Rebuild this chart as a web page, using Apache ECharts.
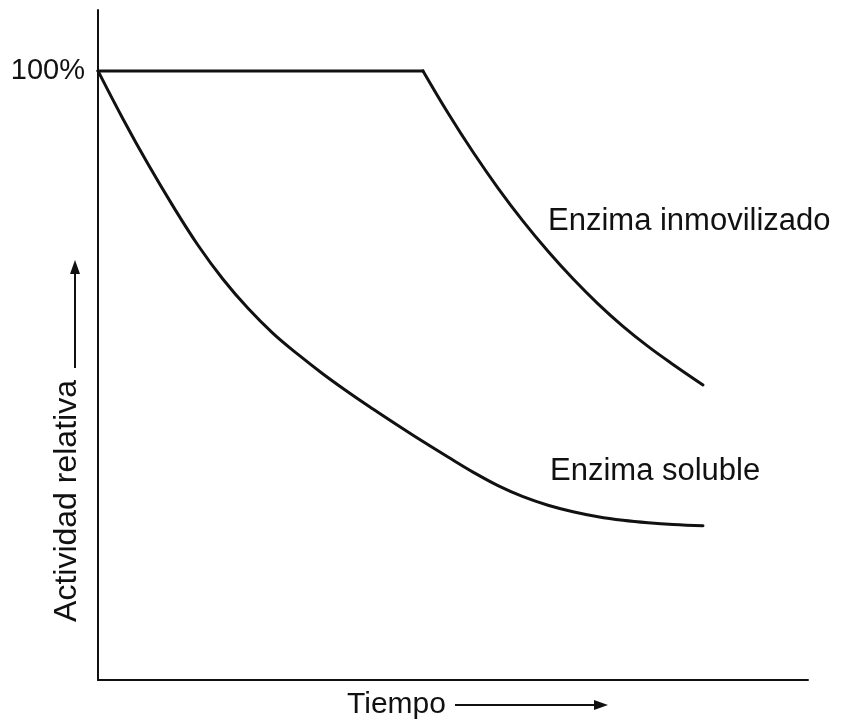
<!DOCTYPE html>
<html>
<head>
<meta charset="utf-8">
<script src="https://cdn.jsdelivr.net/npm/echarts@6/dist/echarts.min.js"></script>
<style>
  html, body { margin: 0; padding: 0; background: #fff; }
  #chart { width: 842px; height: 723px; }
</style>
</head>
<body>
<div id="chart"></div>
<script>
// Relative activity (%) against time (arbitrary units) for the two forms of the enzyme
const solubleTime = [0, 1, 2, 3, 4, 5, 6, 7, 8, 9, 10, 11, 12, 13, 14, 15, 16, 17, 18, 19, 20, 21, 22, 23, 24.2];
const solubleActivity = [100, 92.11, 84.70, 77.80, 71.38, 65.79, 61.02, 56.91, 53.45, 50.25, 47.29, 44.49, 41.78,
                         39.14, 36.60, 34.13, 31.91, 30.10, 28.70, 27.63, 26.81, 26.23, 25.82, 25.53, 25.33];

const immobTime = [0, 13, 14, 15, 16, 17, 18, 19, 20, 21, 22, 23, 24.2];
const immobActivity = [100, 100, 93.09, 86.68, 80.76, 75.33, 70.39, 65.87, 61.76, 58.06, 54.77, 51.81, 48.44];
// last point of the immobilised enzyme's plateau (the curve bends sharply there)
const immobPlateauEnd = 1;

const yTickLabels = { 100: '100%' };
const seriesNames = ['Enzima soluble', 'Enzima inmovilizado'];
// index of the point each curve label sits beside
const solubleLabelAt = 16;
const immobLabelAt = 5;
const xTitle = 'Tiempo';
const yTitle = 'Actividad relativa';

const FONT = '"Liberation Sans", Arial, Helvetica, sans-serif';
const INK = '#111';

const zip = (xs, ys) => xs.map((x, i) => [x, ys[i]]);

function curveLabel(xs, ys, idx, text, offset) {
  return {
    silent: true,
    symbol: 'circle', symbolSize: 0,
    label: {
      show: true, position: 'right', distance: 0, offset: offset,
      formatter: text, fontFamily: FONT, fontSize: 31, color: INK
    },
    data: [{ coord: [xs[idx], ys[idx]] }]
  };
}

const immobPoints = zip(immobTime, immobActivity);
const lineStyle = { color: INK, width: 3, cap: 'round', join: 'round' };

const chart = echarts.init(document.getElementById('chart'), null, { renderer: 'canvas' });

chart.setOption({
  animation: false,
  backgroundColor: '#fff',
  grid: { left: 98, right: 34, top: 10, bottom: 43, containLabel: false },
  xAxis: {
    type: 'value', min: 0, max: 28.4,
    axisLine: { lineStyle: { color: INK, width: 2 } },
    axisTick: { show: false }, axisLabel: { show: false }, splitLine: { show: false }
  },
  yAxis: {
    type: 'value', min: 0, max: 110, interval: 100,
    axisLine: { show: true, lineStyle: { color: INK, width: 2 } },
    axisTick: { show: false }, splitLine: { show: false },
    axisLabel: {
      formatter: v => yTickLabels[v] || '',
      fontFamily: FONT, fontSize: 29, color: INK, margin: 13
    }
  },
  series: [
    {
      name: seriesNames[0], type: 'line', smooth: 0.4, smoothConstraint: false,
      symbol: 'none', lineStyle: lineStyle,
      data: zip(solubleTime, solubleActivity),
      markPoint: curveLabel(solubleTime, solubleActivity, solubleLabelAt, seriesNames[0], [52, -14])
    },
    {
      // plateau: full activity retained
      name: seriesNames[1], type: 'line', smooth: false,
      symbol: 'none', lineStyle: lineStyle,
      data: immobPoints.slice(0, immobPlateauEnd + 1)
    },
    {
      // decline after the plateau
      name: seriesNames[1], type: 'line', smooth: 0.4, smoothConstraint: false,
      symbol: 'none', lineStyle: lineStyle,
      data: immobPoints.slice(immobPlateauEnd),
      markPoint: curveLabel(immobTime, immobActivity, immobLabelAt, seriesNames[1], [25, 0])
    }
  ],
  graphic: [
    // x-axis title with arrow
    { type: 'text', x: 347, y: 705,
      style: { text: xTitle, font: '30px ' + FONT, fill: INK, verticalAlign: 'middle' } },
    { type: 'line', shape: { x1: 455, y1: 705, x2: 595, y2: 705 },
      style: { stroke: INK, lineWidth: 2 } },
    { type: 'polygon', shape: { points: [[594, 700], [608, 705], [594, 710]] },
      style: { fill: INK } },
    // y-axis title with arrow
    { type: 'text', x: 67, y: 501, rotation: Math.PI / 2,
      style: { text: yTitle, font: '32px ' + FONT, fill: INK,
               align: 'center', verticalAlign: 'middle' } },
    { type: 'line', shape: { x1: 75, y1: 368, x2: 75, y2: 272 },
      style: { stroke: INK, lineWidth: 2 } },
    { type: 'polygon', shape: { points: [[70, 274], [75, 260], [80, 274]] },
      style: { fill: INK } }
  ]
});
</script>
</body>
</html>
